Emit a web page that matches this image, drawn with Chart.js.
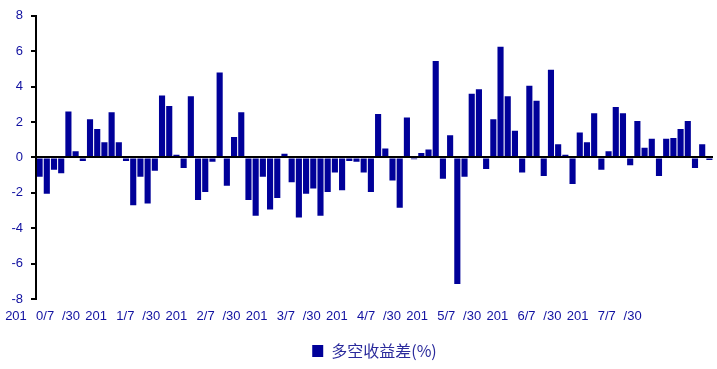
<!DOCTYPE html>
<html>
<head>
<meta charset="utf-8">
<title>多空收益差</title>
<script src="https://cdn.jsdelivr.net/npm/chart.js@4/dist/chart.umd.min.js"></script>
<style>
    html, body { margin: 0; padding: 0; background: #fff; }
    #wrap { width: 717px; height: 369px; }
</style>
</head>
<body>
<div id="wrap"><canvas id="spreadChart" width="717" height="369"></canvas></div>
<script>
// monthly long-short spread (%), starting Jul 2010
const spreadValues = [
    -1.1, -2.05, -0.7, -0.9, 2.6, 0.35, -0.2, 2.15, 1.6, 0.85, 2.55, 0.85,
    -0.2, -2.7, -1.1, -2.6, -0.75, 3.5, 2.9, 0.15, -0.6, 3.45, -2.4, -1.95,
    -0.25, 4.8, -1.6, 1.15, 2.55, -2.4, -3.3, -1.1, -2.95, -2.3, 0.2, -1.4,
    -3.4, -2.05, -1.75, -3.3, -1.95, -0.85, -1.85, -0.2, -0.25, -0.85, -1.95, 2.45,
    0.5, -1.3, -2.85, 2.25, -0.1, 0.25, 0.45, 5.45, -1.2, 1.25, -7.15, -1.1,
    3.6, 3.85, -0.65, 2.15, 6.25, 3.45, 1.5, -0.85, 4.05, 3.2, -1.05, 4.95,
    0.75, 0.15, -1.5, 1.4, 0.85, 2.5, -0.7, 0.35, 2.85, 2.5, -0.45, 2.05,
    0.55, 1.05, -1.05, 1.05, 1.1, 1.6, 2.05, -0.6, 0.75, -0.15
];
const yearLabels = ['2010/7/30', '2011/7/30', '2012/7/30', '2013/7/30',
                    '2014/7/30', '2015/7/30', '2016/7/30', '2017/7/30'];
const yMin = -8;
const yMax = 8;
const yStep = 2;
const seriesName = '多空收益差(%)';

// month categories, one per bar
const months = spreadValues.map((_, i) => {
    const m = 6 + i;
    return (2010 + Math.floor(m / 12)) + '/' + (m % 12 + 1);
});

// the original x labels come out broken in three pieces ("201 0/7 /30")
const labelStart = -3.28;
const labelPitch = 11.14;
const pieceOffsets = [0, 4.05, 7.64];
const pieceTicks = [];
yearLabels.forEach((lab, g) => {
    const pieces = [lab.slice(0, 3), lab.slice(3, 6), lab.slice(6)];
    pieces.forEach((txt, k) => {
        pieceTicks.push({ value: labelStart + g * labelPitch + pieceOffsets[k], text: txt });
    });
});

const blue = '#000099';
const textBlue = '#1111a0';
const axisFont = { family: "Arial, 'Liberation Sans'", size: 13 };

new Chart(document.getElementById('spreadChart'), {
    type: 'bar',
    data: {
        labels: months,
        datasets: [{
            label: seriesName,
            data: spreadValues,
            backgroundColor: blue,
            borderWidth: 0,
            barPercentage: 0.85,
            categoryPercentage: 1.0
        }]
    },
    options: {
        responsive: false,
        animation: false,
        devicePixelRatio: 1,
        layout: { padding: { top: 14, left: 0, right: 4, bottom: 0 } },
        plugins: {
            tooltip: { enabled: false },
            legend: {
                position: 'bottom',
                fullSize: false,
                onClick: null,
                labels: {
                    boxWidth: 11,
                    boxHeight: 12,
                    padding: 8,
                    color: '#2a2a9c',
                    font: { family: "'Noto Sans CJK SC'", size: 16 }
                }
            }
        },
        scales: {
            x: {
                type: 'category',
                display: false,
                offset: true
            },
            xt: {
                type: 'linear',
                position: 'bottom',
                offset: false,
                min: -0.5,
                max: spreadValues.length - 0.5,
                grid: { display: false, drawTicks: false, offset: false },
                border: { display: false },
                afterBuildTicks: scale => {
                    scale.ticks = pieceTicks.map(t => ({ value: t.value }));
                },
                afterFit: scale => {
                    scale.height = 36;
                    scale.paddingLeft = 0;
                    scale.paddingRight = 0;
                },
                ticks: {
                    autoSkip: false,
                    maxRotation: 0,
                    padding: 10,
                    color: textBlue,
                    font: axisFont,
                    callback: (v, i) => pieceTicks[i].text
                }
            },
            y: {
                min: yMin,
                max: yMax,
                afterFit: scale => { scale.width = 36; },
                ticks: {
                    stepSize: yStep,
                    padding: 8,
                    color: textBlue,
                    font: axisFont
                },
                grid: {
                    z: 1,
                    lineWidth: 2,
                    color: ctx => ctx.tick && ctx.tick.value === 0 ? '#000' : 'rgba(0,0,0,0)',
                    drawTicks: true,
                    tickLength: 5,
                    tickWidth: 2,
                    tickColor: '#000'
                },
                border: { display: true, color: '#000', width: 2, z: 1 }
            }
        }
    }
});
</script>
</body>
</html>
